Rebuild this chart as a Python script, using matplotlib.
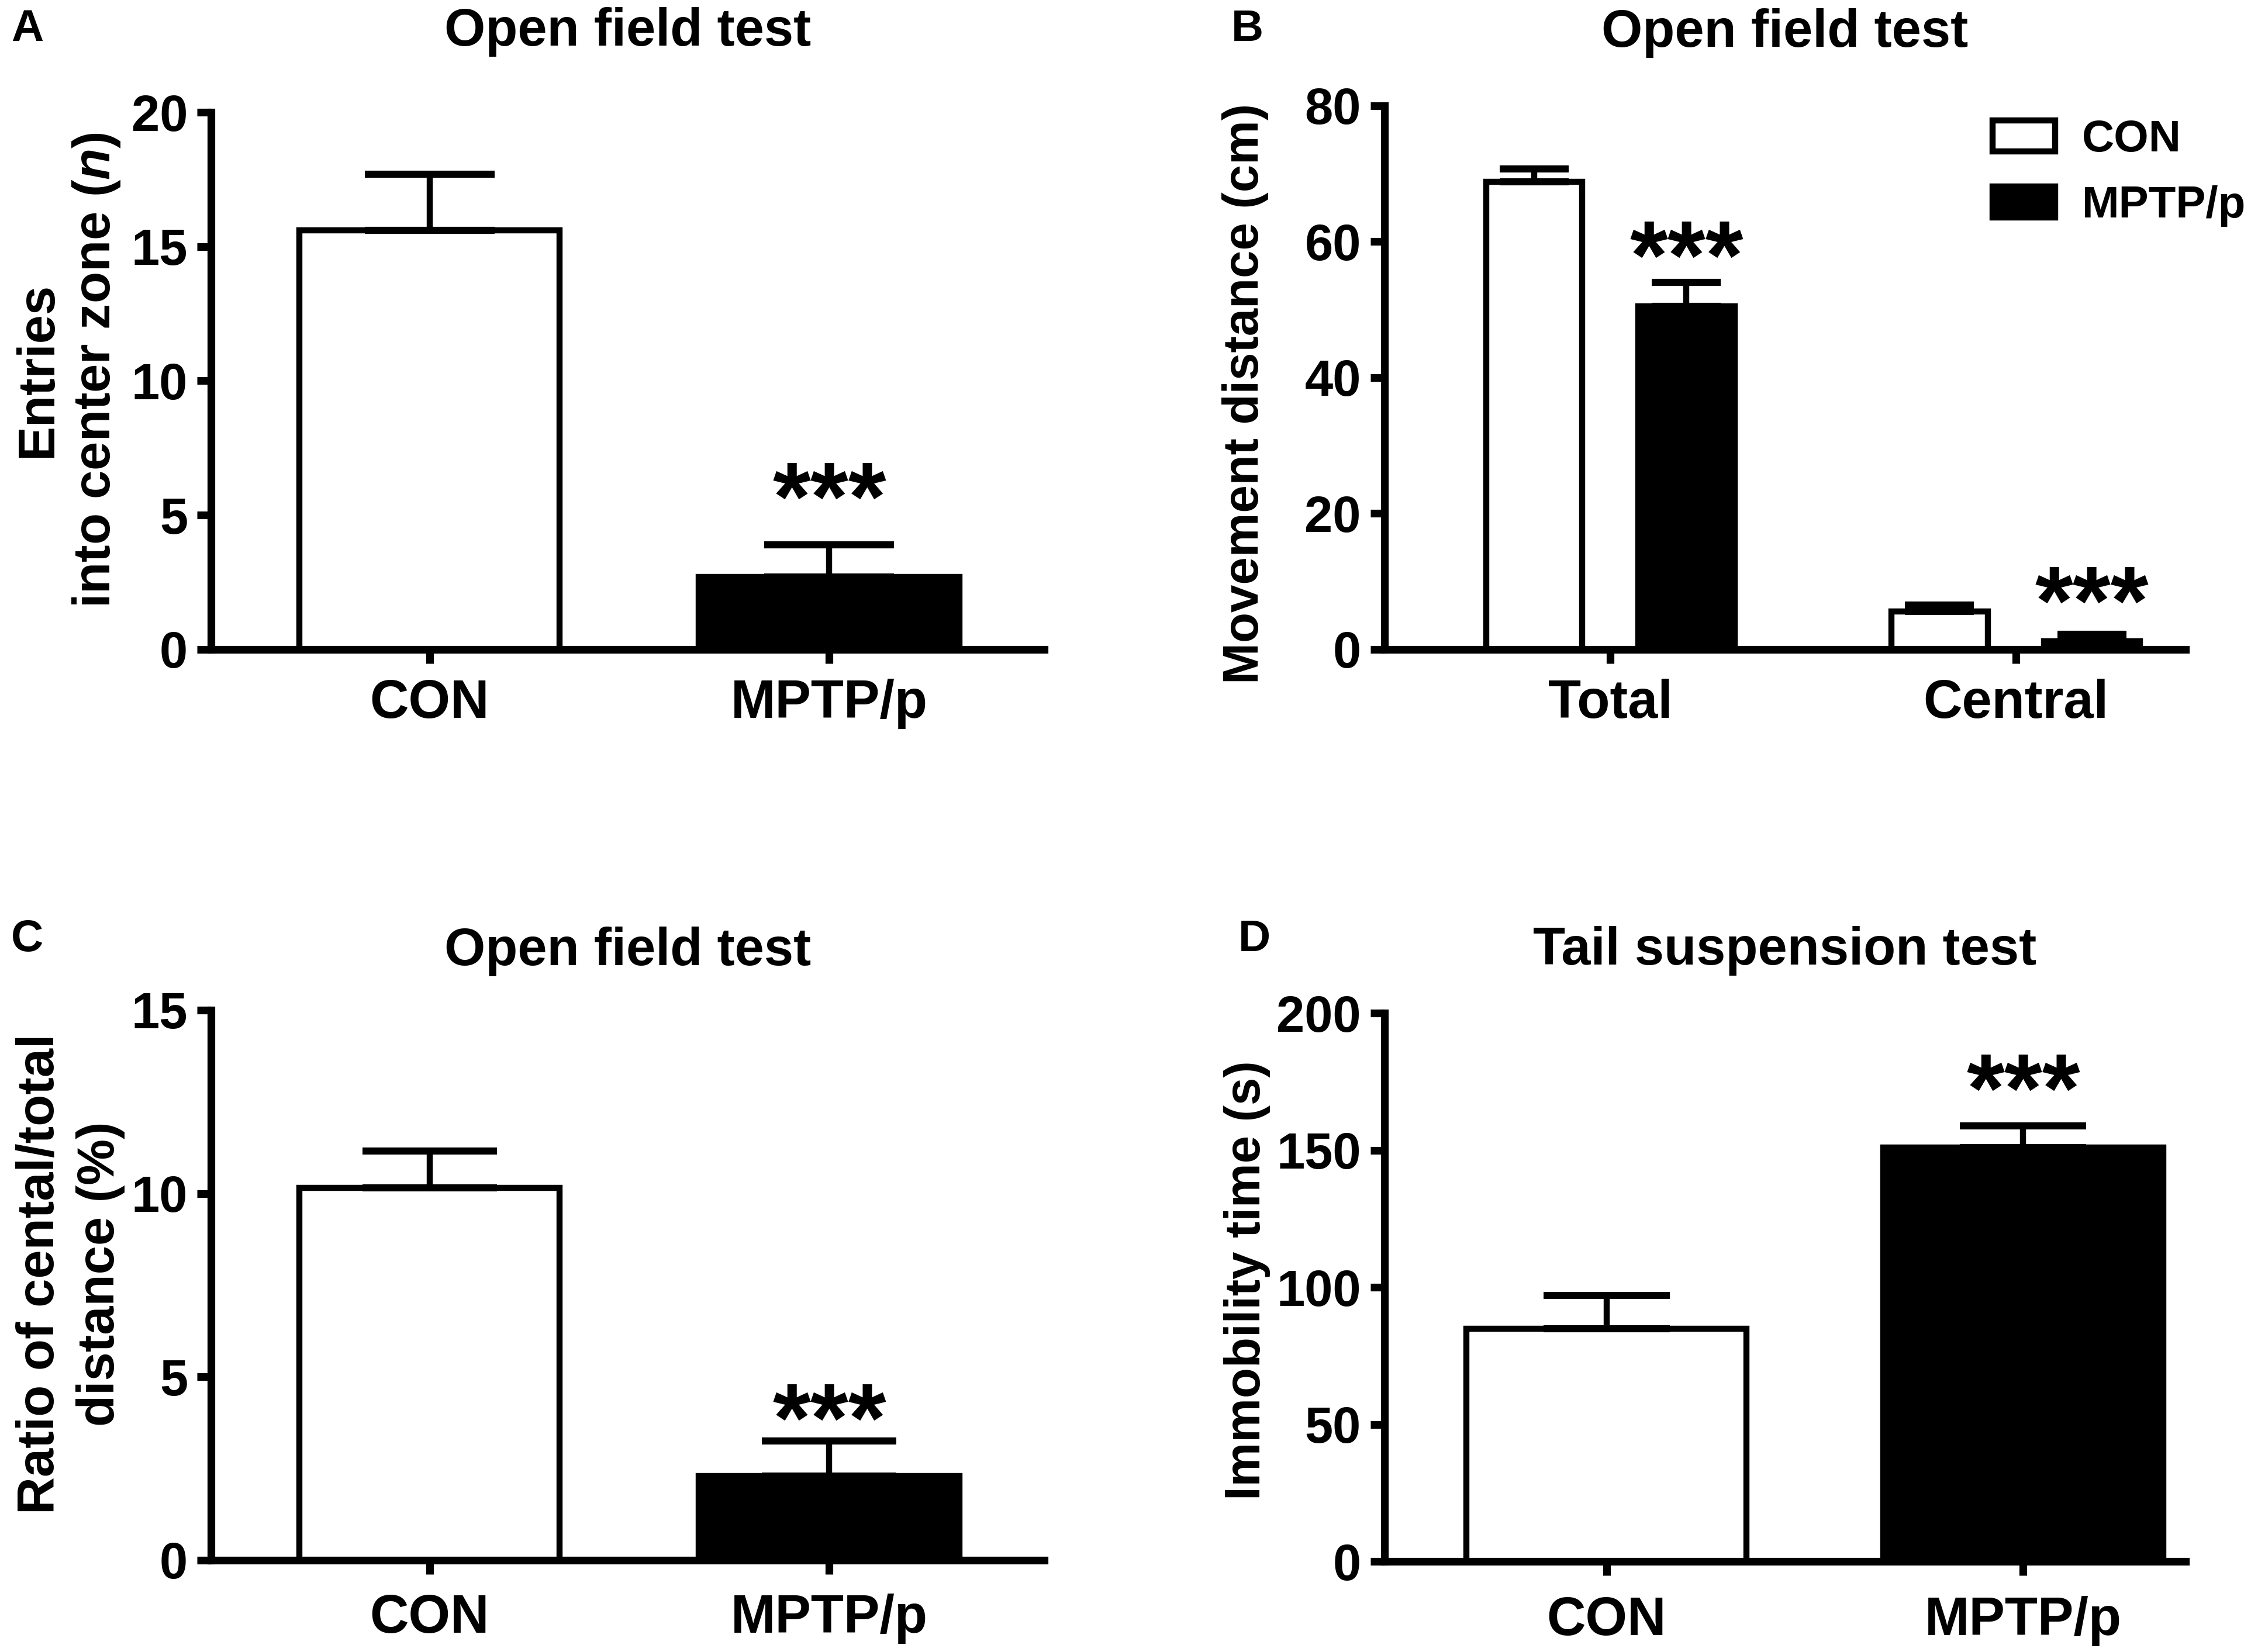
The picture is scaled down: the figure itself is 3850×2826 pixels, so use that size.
import matplotlib
matplotlib.use("Agg")
import matplotlib.pyplot as plt
from matplotlib.patches import Patch

plt.rcParams.update({
    "font.family": ["Liberation Sans", "DejaVu Sans"],
    "font.weight": "bold",
    "mathtext.fontset": "custom",
    "mathtext.it": "Liberation Sans:bold:italic",
    "mathtext.rm": "Liberation Sans:bold",
    "axes.linewidth": 3.8,
    "xtick.major.width": 3.8,
    "ytick.major.width": 3.8,
    "xtick.major.size": 7,
    "ytick.major.size": 7,
})

# Panel A: entries into center zone
groups = ["CON", "MPTP/p"]
entries_mean = [15.6, 2.7]
entries_sem = [2.1, 1.2]

# Panel B: movement distance (cm)
dist_cats = ["Total", "Central"]
dist_con_mean = [68.8, 5.6]
dist_con_sem = [1.9, 0.9]
dist_mptp_mean = [50.5, 1.2]
dist_mptp_sem = [3.5, 1.0]

# Panel C: ratio of central/total distance (%)
ratio_mean = [10.15, 2.3]
ratio_sem = [1.0, 0.95]

# Panel D: tail suspension immobility time (s)
immob_mean = [85.0, 151.0]
immob_sem = [12.0, 8.0]

colors = ["white", "black"]
LW = 3.0
CAP_LW = 3.5
TICK_FS = 25
CAT_FS = 26.5
TITLE_FS = 26
STAR_FS = 48

fig = plt.figure(figsize=(15.4, 11.304), dpi=250)

ax_a = fig.add_axes([0.0938, 0.607, 0.370, 0.325])
ax_b = fig.add_axes([0.615, 0.607, 0.356, 0.329])
ax_c = fig.add_axes([0.0938, 0.0556, 0.370, 0.333])
ax_d = fig.add_axes([0.615, 0.0547, 0.356, 0.332])


def style_axis(ax, yticks, ylim, xlim, xpad):
    ax.spines["top"].set_visible(False)
    ax.spines["right"].set_visible(False)
    ax.set_ylim(*ylim)
    ax.set_xlim(*xlim)
    ax.set_yticks(yticks)
    ax.tick_params(axis="both", direction="out")
    ax.tick_params(axis="y", labelsize=TICK_FS, pad=4.5)
    ax.tick_params(axis="x", pad=xpad)


def two_group(ax, means, sems, width, capsize):
    xs = list(range(len(means)))
    ax.bar(xs, means, width=width, color=colors, edgecolor="black",
           linewidth=LW, zorder=2)
    ax.errorbar(xs, means, yerr=[[0] * len(sems), sems], fmt="none",
                ecolor="black", elinewidth=LW, capsize=capsize,
                capthick=CAP_LW, zorder=3)
    ax.set_xticks(xs)
    ax.set_xticklabels(groups, fontsize=CAT_FS, fontweight="bold")


def stars(ax, x, top, dy):
    ax.annotate("***", xy=(x, top), xytext=(0, dy),
                textcoords="offset points", ha="center", va="baseline",
                fontsize=STAR_FS, fontweight="bold")


def ylabel(ax, text, size, xpos, ypos, spacing=1.2):
    ax.set_ylabel(text, fontsize=size, fontweight="bold",
                  linespacing=spacing)
    ax.yaxis.set_label_coords(xpos, ypos)


# ---- A
two_group(ax_a, entries_mean, entries_sem, 0.652, 32)
style_axis(ax_a, [0, 5, 10, 15, 20], (0, 20), (-0.546, 1.537), 7.5)
ylabel(ax_a, "Entries\ninto center zone ($n$)", 25.5, -0.107, 0.52)
ax_a.set_title("Open field test", fontsize=TITLE_FS,
               fontweight="bold", pad=33)
stars(ax_a, 1, entries_mean[1] + entries_sem[1], 7)

# ---- B
bx = [0, 1]
off = 0.188
bw = 0.237
ax_b.bar([x - off for x in bx], dist_con_mean, width=bw, color="white",
         edgecolor="black", linewidth=LW, zorder=2, label="CON")
ax_b.bar([x + off for x in bx], dist_mptp_mean, width=bw, color="black",
         edgecolor="black", linewidth=LW, zorder=2, label="MPTP/p")
ax_b.errorbar([x - off for x in bx], dist_con_mean,
              yerr=[[0, 0], dist_con_sem], fmt="none", ecolor="black",
              elinewidth=LW, capsize=17, capthick=CAP_LW, zorder=3)
ax_b.errorbar([x + off for x in bx], dist_mptp_mean,
              yerr=[[0, 0], dist_mptp_sem], fmt="none", ecolor="black",
              elinewidth=LW, capsize=17, capthick=CAP_LW, zorder=3)
ax_b.set_xticks(bx)
ax_b.set_xticklabels(dist_cats, fontsize=CAT_FS, fontweight="bold")
style_axis(ax_b, [0, 20, 40, 60, 80], (0, 80), (-0.557, 1.419), 7.5)
ylabel(ax_b, "Movement distance (cm)", 24.5, -0.144, 0.47)
ax_b.set_title("Open field test", fontsize=TITLE_FS,
               fontweight="bold", pad=29)
stars(ax_b, bx[0] + off, dist_mptp_mean[0] + dist_mptp_sem[0], -3)
stars(ax_b, bx[1] + off, dist_mptp_mean[1] + dist_mptp_sem[1], 0)
handles = [Patch(facecolor="white", edgecolor="black", linewidth=LW),
           Patch(facecolor="black", edgecolor="black", linewidth=LW)]
ax_b.legend(handles, ["CON", "MPTP/p"], loc="upper right",
            bbox_to_anchor=(1.075, 0.975), frameon=False,
            borderpad=0, borderaxespad=0,
            prop={"size": 22, "weight": "bold"},
            handlelength=1.4, handleheight=0.7, handletextpad=0.6,
            labelspacing=0.55)

# ---- C
two_group(ax_c, ratio_mean, ratio_sem, 0.652, 33)
style_axis(ax_c, [0, 5, 10, 15], (0, 15), (-0.546, 1.537), 9.5)
ylabel(ax_c, "Ratio of cental/total\ndistance (%)", 25.5, -0.103, 0.52,
       spacing=1.3)
ax_c.set_title("Open field test", fontsize=TITLE_FS,
               fontweight="bold", pad=22)
stars(ax_c, 1, ratio_mean[1] + ratio_sem[1], -5)

# ---- D
two_group(ax_d, immob_mean, immob_sem, 0.673, 31)
style_axis(ax_d, [0, 50, 100, 150, 200], (0, 200), (-0.533, 1.39), 10)
ylabel(ax_d, "Immobility time (s)", 24.5, -0.142, 0.513)
ax_d.set_title("Tail suspension test", fontsize=TITLE_FS,
               fontweight="bold", pad=24)
stars(ax_d, 1, immob_mean[1] + immob_sem[1], 2)

# panel letters
for letter, (x, y) in zip("ABCD", [(0.005, 0.982), (0.547, 0.982),
                                   (0.005, 0.431), (0.550, 0.431)]):
    fig.text(x, y, letter, fontsize=22, fontweight="bold", va="center")

fig.savefig("out.png", dpi=250)
